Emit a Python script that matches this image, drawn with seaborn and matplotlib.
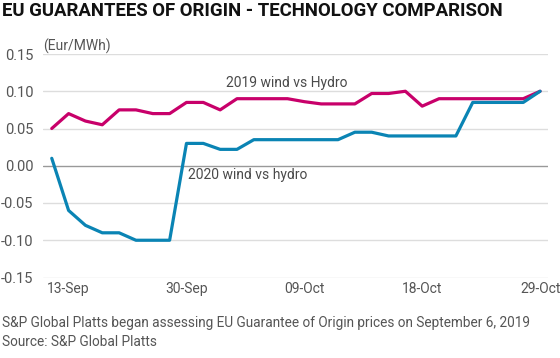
import pandas as pd
import seaborn as sns
import matplotlib.pyplot as plt

# daily assessments (Eur/MWh), one point per trading day shown
wind_hydro_2019 = [0.05, 0.07, 0.06, 0.055, 0.075, 0.075, 0.07, 0.07, 0.085, 0.085,
                   0.075, 0.09, 0.09, 0.09, 0.09, 0.086, 0.083, 0.083, 0.083, 0.097,
                   0.097, 0.10, 0.08, 0.09, 0.09, 0.09, 0.09, 0.09, 0.09, 0.10]
wind_hydro_2020 = [0.01, -0.06, -0.08, -0.09, -0.09, -0.10, -0.10, -0.10, 0.03, 0.03,
                   0.022, 0.022, 0.035, 0.035, 0.035, 0.035, 0.035, 0.035, 0.045, 0.045,
                   0.04, 0.04, 0.04, 0.04, 0.04, 0.085, 0.085, 0.085, 0.085, 0.10]
tick_pos = [1, 8, 15, 22, 29]
tick_labels = ["13-Sep", "30-Sep", "09-Oct", "18-Oct", "29-Oct"]
y_ticks = [-0.15, -0.10, -0.05, 0.00, 0.05, 0.10, 0.15]
y_labels = ["-0.15", "-0.10", "-0.05", "0.00", "0.05", "0.10", "0.15"]

df = pd.DataFrame({
    "day": list(range(len(wind_hydro_2019))),
    "2019": wind_hydro_2019,
    "2020": wind_hydro_2020,
})

sns.set_theme(style="white")
plt.rcParams['font.family'] = ['Roboto', 'DejaVu Sans']

fig = plt.figure(figsize=(5.6, 3.58), dpi=100)
ax = fig.add_axes([43 / 560, 1 - 277.5 / 358, 505 / 560, 223.5 / 358])

pink = "#C8006A"
blue = "#0A84B4"
sns.lineplot(data=df, x="day", y="2019", color=pink, linewidth=2.3, ax=ax)
sns.lineplot(data=df, x="day", y="2020", color=blue, linewidth=2.3, ax=ax)

ax.set_xlim(-0.52, 29.47)
ax.set_ylim(-0.15, 0.15)
ax.set_yticks(y_ticks)
ax.set_yticklabels(y_labels)
ax.set_xticks(tick_pos)
ax.set_xticklabels(tick_labels)
ax.tick_params(axis="both", length=0, labelsize=10.5, labelcolor="#555555")
ax.tick_params(axis="x", labelsize=10)
ax.tick_params(axis="y", pad=7)
ax.tick_params(axis="x", pad=3)
ax.set_xlabel("")
ax.set_ylabel("")

# gridlines, zero line darker
for y in y_ticks:
    ax.axhline(y, color="#999999" if y == 0 else "#dddddd", linewidth=1, zorder=0)
sns.despine(ax=ax, left=True, bottom=True, top=True, right=True)

ax.text(10.35, 0.1105, "2019 wind vs Hydro", fontsize=10, color="#4a4a4a", va="center")
ax.text(8.11, -0.012, "2020 wind vs hydro", fontsize=10, color="#4a4a4a", va="center")

fig.text(0.003, 1 - 11 / 358, "EU GUARANTEES OF ORIGIN - TECHNOLOGY COMPARISON",
         fontsize=13.4, fontweight="bold", color="#111111", va="center")
fig.text(43 / 560, 1 - 46 / 358, "(Eur/MWh)", fontsize=10, color="#555555", va="center")
fig.text(0.003, 1 - 323 / 358,
         "S&P Global Platts began assessing EU Guarantee of Origin prices on September 6, 2019",
         fontsize=9.8, color="#555555", va="center")
fig.text(0.003, 1 - 342 / 358, "Source: S&P Global Platts", fontsize=9.8, color="#555555", va="center")

fig.savefig("out.png", dpi=100)
